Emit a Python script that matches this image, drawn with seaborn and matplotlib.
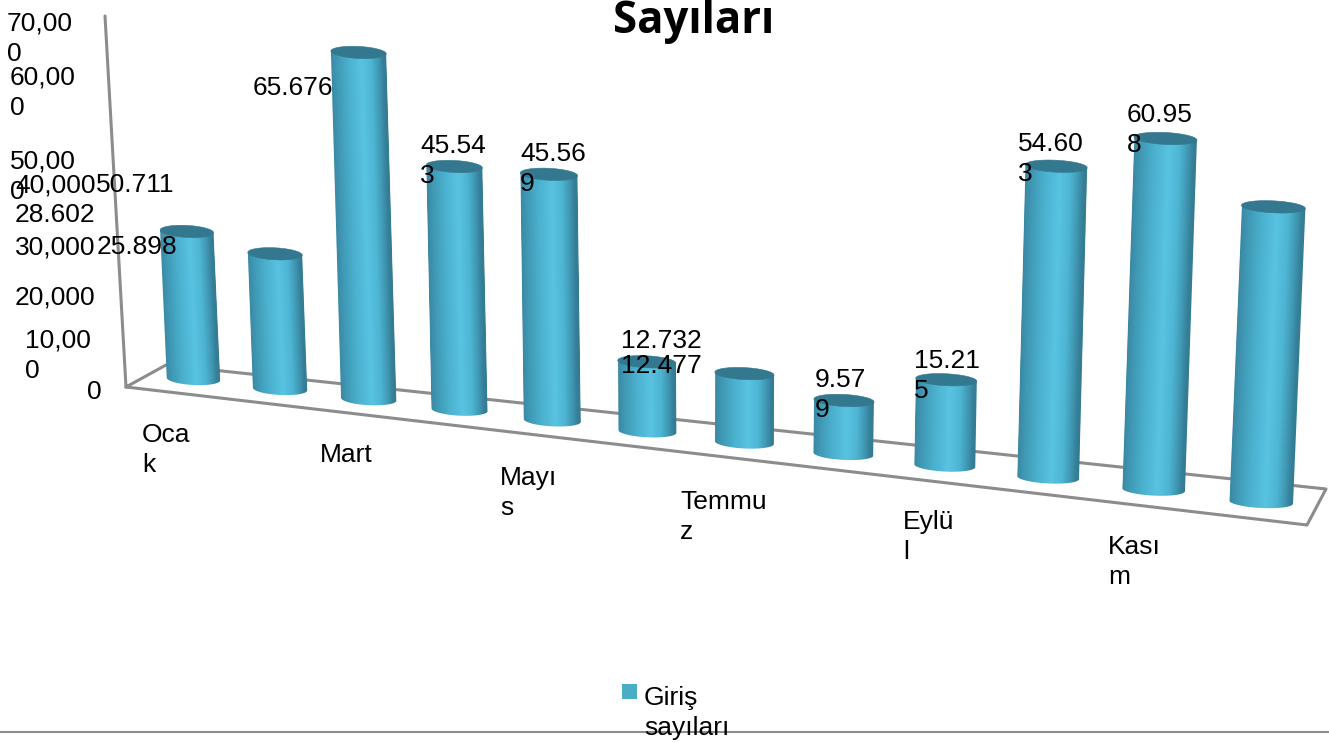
import numpy as np
import pandas as pd
import matplotlib
matplotlib.use("Agg")
import matplotlib.pyplot as plt
from matplotlib.colors import LinearSegmentedColormap
from matplotlib.patches import Polygon, Rectangle
from matplotlib.transforms import Affine2D
import seaborn as sns

# ---- data ----
months = ["Ocak", "Şubat", "Mart", "Nisan", "Mayıs", "Haziran", "Temmuz",
          "Ağustos", "Eylül", "Ekim", "Kasım", "Aralık"]
visitors = [28602, 25898, 65676, 45543, 45569, 12732, 12477, 9579, 15215, 54603, 60958, 50711]
series_name = "Giriş\nsayıları"
title_text = "Sayıları"
y_tick_labels = ["0", "10,00\n0", "20,000", "30,000", "40,000", "50,00\n0", "60,00\n0", "70,00\n0"]
x_tick_labels = ["Oca\nk", "Mart", "Mayı\ns", "Temmu\nz", "Eylü\nl", "Kası\nm"]
data_labels = ["28.602", "25.898", "65.676", "45.54\n3", "45.56\n9", "12.732", "12.477",
               "9.57\n9", "15.21\n5", "54.60\n3", "60.95\n8", "50.711"]

# ---- layout (pixels of the 1329x742 picture) ----
y_tick_xy = [(87, 392), (25, 356), (15, 297), (15, 247), (15, 185), (10, 177), (10, 93), (7, 39)]
x_tick_xy = [(142, 450), (320, 455), (500, 493), (680, 517), (903, 537), (1108, 562)]
label_xy = [(15, 215), (97, 247), (253, 88), (420, 161), (520, 169), (621, 341), (621, 366),
            (815, 395), (914, 376), (1018, 159), (1127, 130), (96, 185)]

BAR_COLOR = "#4BACC6"
GRID = "#8C8C8C"
TEXT_SIZE = 19

sns.set_theme(style="white", rc={"figure.dpi": 100, "savefig.dpi": 100})
plt.rcParams["font.family"] = ["Liberation Sans", "DejaVu Sans"]

fig = plt.figure(figsize=(13.29, 7.42), facecolor="white")

# Values go through seaborn's categorical bar scale; the patches are then
# projected into the chart's perspective view.
hidden = fig.add_axes([0, 0, 1, 1])
df = pd.DataFrame({"month": months, "visitors": visitors})
sns.barplot(data=df, x="month", y="visitors", color=BAR_COLOR, ax=hidden)
bars = [(p.get_x() + p.get_width() / 2, p.get_height()) for p in hidden.patches]
hidden.set_visible(False)

ax = fig.add_axes([0, 0, 1, 1])
ax.axis("off")


def base_x(i):
    return 193.5 + 85.5 * i + 1.05 * i ** 2


def base_y(i):
    return 379 + 9.86 * i + 0.12 * i ** 2


def bar_width(i):
    return 53.5 + 0.95 * i


def scale(i):
    return 0.00516 + 0.00006 * i


def lean(i):
    return -0.045 + 0.0079 * i


shade = LinearSegmentedColormap.from_list("cyl", [
    (0.00, "#3A88A3"), (0.10, "#3F97B3"), (0.30, "#49AFCC"), (0.55, "#59C3E2"),
    (0.72, "#4EB6D4"), (0.85, "#4099B4"), (0.94, "#367F98"), (1.00, "#347A92")])

# walls and floor
frame = pd.DataFrame({
    "x": [105, 126, 1307, 1326, 166, 126],
    "y": [16, 387, 525, 489, 365, 387]})
sns.lineplot(data=frame, x="x", y="y", sort=False, estimator=None, color=GRID, lw=2.2, ax=ax)
sns.lineplot(x=[0, 1329], y=[732, 732], color=GRID, lw=1.5, ax=ax)

RY = 6.0
SLOPE = 0.05
gradient = np.linspace(0, 1, 256)[None, :]
theta = np.linspace(np.pi, 0, 81)
t = np.linspace(0, 2 * np.pi, 120)
for pos, value in bars:
    i = int(round(pos))
    w = bar_width(i)
    xb, yb = base_x(i), base_y(i)
    h = value * scale(i)
    yt = yb - h
    xt = xb + lean(i) * h
    dx = np.cos(theta) * w / 2
    dy = np.sin(theta) * RY + SLOPE * dx
    # body: sheared gradient image, clipped to the cylinder outline
    outline = np.r_[np.c_[xb + dx, yb + dy], [[xt + w / 2, yt + SLOPE * w / 2]],
                    [[xt - w / 2, yt - SLOPE * w / 2]]]
    xl, yl = xb - w / 2, yb + 10
    shear = (xt - xb) / (yt - yb)
    m = np.array([[w, shear * (yt - yb - 20), xl],
                  [0, yt - yb - 20, yl],
                  [0, 0, 1]], dtype=float)
    im = ax.imshow(gradient, cmap=shade, vmin=0, vmax=1, extent=(0, 1, 0, 1), origin="lower",
                   aspect="auto", interpolation="bilinear", zorder=3)
    im.set_transform(Affine2D(m) + ax.transData)
    clip = Polygon(outline, closed=True, transform=ax.transData)
    im.set_clip_path(clip)
    ex = np.cos(t) * w / 2
    ey = np.sin(t) * RY + SLOPE * ex
    ax.add_patch(Polygon(np.c_[xt + ex, yt + ey], closed=True, fc="#33788F", ec="#33788F",
                         lw=0.4, zorder=4))

ax.set_xlim(0, 1329)
ax.set_ylim(742, 0)


def put(xy, s):
    ax.text(xy[0], xy[1], s, ha="left", va="center", fontsize=TEXT_SIZE, color="black",
            linespacing=1.33, zorder=6)


for xy, s in zip(y_tick_xy, y_tick_labels):
    put(xy, s)
for xy, s in zip(x_tick_xy, x_tick_labels):
    put(xy, s)
for xy, s in zip(label_xy, data_labels):
    put(xy, s)

# legend
ax.add_patch(Rectangle((622, 684), 15, 15, fc=BAR_COLOR, ec="none", zorder=5))
put((644, 713), series_name)

# title, cut by the top edge of the picture as in the source
ax.text(694, 33, title_text, ha="center", va="baseline", fontsize=31.5, fontweight="bold",
        family=["Open Sans", "DejaVu Sans"], color="black", zorder=6)

fig.savefig("out.png", dpi=100, facecolor="white")
